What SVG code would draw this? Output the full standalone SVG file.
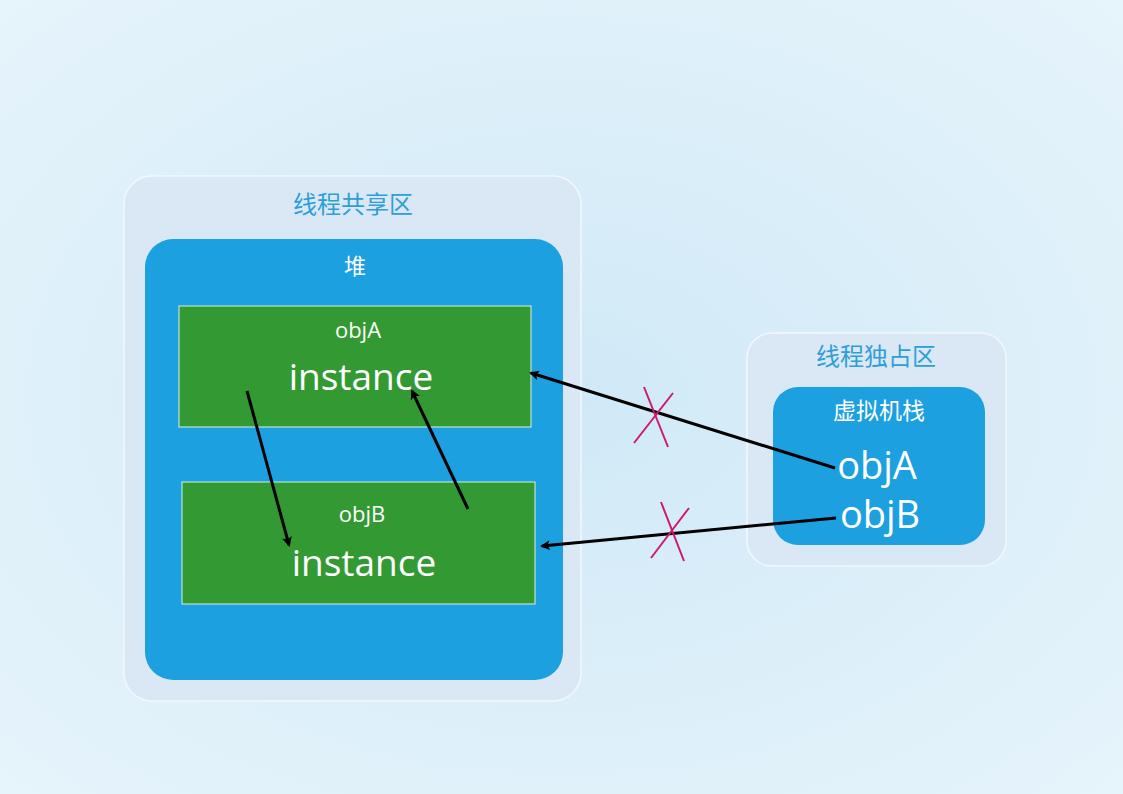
<svg xmlns="http://www.w3.org/2000/svg" width="1123" height="794" viewBox="0 0 1123 794">
<defs>
<radialGradient id="bg" cx="50%" cy="50%" r="70%">
<stop offset="0" stop-color="#d0e9f7"/>
<stop offset="1" stop-color="#e6f4fb"/>
</radialGradient>
<marker id="ah" markerWidth="12" markerHeight="12" refX="8" refY="5" orient="auto" markerUnits="userSpaceOnUse">
<path d="M0,0 L10,5 L0,10 L2.5,5 Z" fill="#000"/>
</marker>
<style>
.zone{fill:#dae8f6;stroke:#f2f8fc;stroke-width:1.5}
.blue{fill:#1ca0e0}
.green{fill:#339933;stroke:#d8f0e0;stroke-width:1}
.t{font-family:"Open Sans","Noto Sans","Noto Sans CJK SC",sans-serif;text-anchor:middle}
.zt{fill:#2e9fd6;font-size:24px}
.wt{fill:#fff}
.conn{stroke:#000;stroke-width:3;fill:none;marker-end:url(#ah)}
.x{stroke:#cc1a6e;stroke-width:2}
</style>
</defs>
<rect width="1123" height="794" fill="url(#bg)"/>
<g id="shared-zone">
<rect class="zone" x="124" y="176" width="457" height="525" rx="28"/>
<text class="t zt" x="353" y="213">线程共享区</text>
</g>
<g id="heap">
<rect class="blue" x="145" y="239" width="418" height="441" rx="28"/>
<text class="t wt" x="355" y="274" font-size="22">堆</text>
</g>
<g id="objA-instance">
<rect class="green" x="179" y="306" width="352" height="121"/>
<text class="t wt" x="358" y="338" font-size="22">objA</text>
<text class="t wt" x="361" y="390" font-size="37">instance</text>
</g>
<g id="objB-instance">
<rect class="green" x="182" y="482" width="353" height="122"/>
<text class="t wt" x="362" y="522" font-size="22">objB</text>
<text class="t wt" x="364" y="576" font-size="37">instance</text>
</g>
<g id="private-zone">
<rect class="zone" x="747" y="333" width="259" height="233" rx="25"/>
<text class="t zt" x="876" y="365">线程独占区</text>
</g>
<g id="vm-stack">
<rect class="blue" x="773" y="387" width="212" height="158" rx="25"/>
<text class="t wt" x="879" y="419" font-size="23">虚拟机栈</text>
<text class="t wt" x="877" y="479" font-size="38">objA</text>
<text class="t wt" x="880" y="528" font-size="38">objB</text>
</g>
<g id="connectors">
<line class="conn" x1="247" y1="391" x2="289" y2="545"/>
<line class="conn" x1="468" y1="509" x2="412" y2="391"/>
<line class="conn" x1="835" y1="468" x2="531" y2="373"/>
<line class="conn" x1="836" y1="518" x2="542" y2="546"/>
<line class="x" x1="634" y1="443" x2="673" y2="393"/>
<line class="x" x1="644" y1="387" x2="668" y2="447"/>
<line class="x" x1="651" y1="558" x2="689" y2="508"/>
<line class="x" x1="661" y1="502" x2="684" y2="561"/>
</g>
</svg>
